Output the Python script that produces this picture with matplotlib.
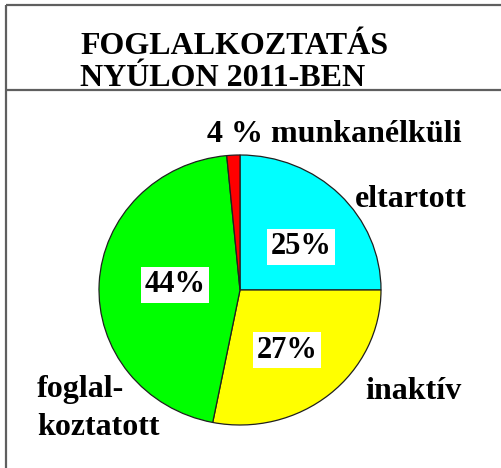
import matplotlib
matplotlib.use("Agg")
import matplotlib.pyplot as plt

# Slice data (angles), labels as printed
names = ["eltartott", "inaktív", "foglalkoztatott", "munkanélküli"]
shares = [25.0, 28.1, 45.4, 1.5]
pct_labels = ["25%", "27%", "44%", "4 %"]
colors = ["#00FFFF", "#FFFF00", "#00FF00", "#FF0000"]
title_lines = ["FOGLALKOZTATÁS", "NYÚLON 2011-BEN"]

plt.rcParams["font.family"] = ["Liberation Serif", "DejaVu Serif"]
plt.rcParams["font.weight"] = "bold"

W, H = 502, 468
fig = plt.figure(figsize=(W / 100, H / 100), dpi=100)

# pie, slightly wider than tall like the original
cx, cy, rx, ry = 240, 290, 141, 135
pie_ax = fig.add_axes([(cx - rx) / W, (H - cy - ry) / H, 2 * rx / W, 2 * ry / H])
pie_ax.pie(shares, colors=colors, startangle=90, counterclock=False,
           wedgeprops=dict(edgecolor="#202020", linewidth=0.9))
pie_ax.set_xlim(-1, 1)
pie_ax.set_ylim(-1, 1)
pie_ax.set_aspect("auto")
pie_ax.axis("off")
pie_ax.set_zorder(0)

# overlay axes in pixel coordinates (origin top-left) for frame and text
bg = fig.add_axes([0, 0, 1, 1])
bg.set_xlim(0, W)
bg.set_ylim(H, 0)
bg.axis("off")
bg.set_zorder(1)

# frame lines
frame = dict(color="#5f5f5f", lw=1.6, solid_capstyle="butt")
bg.plot([6, 6], [5, H], **frame)
bg.plot([6, W], [5, 5], **frame)
bg.plot([6, W], [90, 90], **frame)

# title
bg.text(80, 54, title_lines[0], fontsize=23, fontweight="bold", va="baseline")
bg.text(80, 86, title_lines[1], fontsize=23, fontweight="bold", va="baseline")

# category labels
lab = dict(fontsize=23, fontweight="bold", va="baseline")
bg.text(207, 142, pct_labels[3] + " " + names[3], **lab)
bg.text(355, 207, names[0], **lab)
bg.text(365, 399, names[1], **lab)
bg.text(37, 397, "foglal-", **lab)
bg.text(37, 435, "koztatott", **lab)

# percentage boxes
box = dict(facecolor="white", edgecolor="none", boxstyle="square,pad=0.12")
pct = dict(fontsize=22, fontweight="bold", ha="center", va="center", bbox=box)
bg.text(301, 247, pct_labels[0], **pct)
bg.text(287, 350, pct_labels[1], **pct)
bg.text(175, 285, pct_labels[2], **pct)

fig.savefig("out.png", dpi=100)
